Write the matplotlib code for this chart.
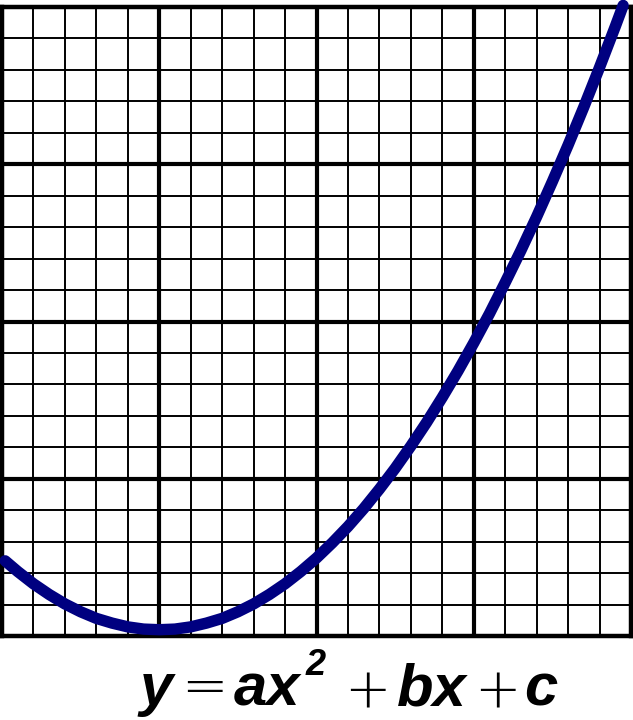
import numpy as np
import matplotlib.pyplot as plt

# points (grid units, 20 x 20 cells)
curve_x = [0.1, 0.5, 1, 1.5, 2, 2.5, 3, 3.5, 4, 4.5, 5, 5.5, 6, 6.5, 7, 7.5, 8, 8.5,
           9, 9.5, 10, 10.5, 11, 11.5, 12, 12.5, 13, 13.5, 14, 14.5, 15, 15.5, 16,
           16.5, 17, 17.5, 18, 18.5, 19, 19.5, 19.75]
curve_y = [2.39, 2.05, 1.66, 1.32, 1.02, 0.77, 0.56, 0.41, 0.29, 0.22, 0.20, 0.22,
           0.29, 0.41, 0.56, 0.77, 1.02, 1.32, 1.66, 2.05, 2.48, 2.96, 3.48, 4.05,
           4.67, 5.33, 6.04, 6.79, 7.59, 8.43, 9.32, 10.25, 11.24, 12.26, 13.33,
           14.45, 15.61, 16.82, 18.08, 19.38, 20.05]

n_cells = 20
major_every = 5

# equation pieces: (text, x centre px, baseline px, size, is_operator)
eq_parts = [("y", 156, 705, 43, False), ("=", 204, 704, 40, True),
            ("ax", 267, 705, 43, False), ("2", 316, 675, 26, False),
            ("+", 367, 707, 40, True), ("bx", 432, 705, 43, False),
            ("+", 497, 707, 40, True), ("c", 541, 705, 43, False)]

W, H = 633, 720
fig = plt.figure(figsize=(W / 100, H / 100), dpi=100)
ax = fig.add_axes([2 / W, 84 / H, 629 / W, 629 / H])
ax.set_xlim(0, n_cells)
ax.set_ylim(0, n_cells)

for i in range(1, n_cells):
    lw = 3.0 if i % major_every == 0 else 1.4
    ax.axvline(i, color='black', lw=lw, zorder=1)
    ax.axhline(i, color='black', lw=lw, zorder=1)

for s in ax.spines.values():
    s.set_linewidth(3.2)
ax.set_xticks([])
ax.set_yticks([])

ax.plot(curve_x, curve_y, color='#000080', lw=8.2, solid_capstyle='round',
        solid_joinstyle='round', clip_on=False, zorder=3)

for txt, px, py, size, op in eq_parts:
    if op:
        fig.text(px / W, 1 - py / H, txt, ha='center', va='baseline', fontsize=size,
                 family='DejaVu Sans', weight='light')
    else:
        fig.text(px / W, 1 - py / H, txt, ha='center', va='baseline', fontsize=size,
                 family='Liberation Sans', weight='bold', style='italic')

fig.savefig('out.png', dpi=100)
